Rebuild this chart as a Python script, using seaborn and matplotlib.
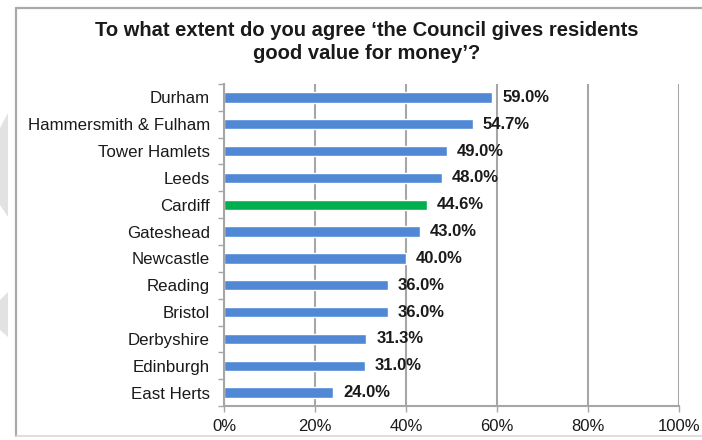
import matplotlib
matplotlib.use("Agg")
import matplotlib.pyplot as plt
from matplotlib.lines import Line2D
from matplotlib.patches import Polygon
from matplotlib.ticker import FixedLocator
import seaborn as sns
import pandas as pd

# Survey results: share of residents agreeing the council gives good value for money
councils = ["Durham", "Hammersmith & Fulham", "Tower Hamlets", "Leeds", "Cardiff",
            "Gateshead", "Newcastle", "Reading", "Bristol", "Derbyshire",
            "Edinburgh", "East Herts"]
agree_pct = [59.0, 54.7, 49.0, 48.0, 44.6, 43.0, 40.0, 36.0, 36.0, 31.3, 31.0, 24.0]
x_ticks = [0, 20, 40, 60, 80, 100]
x_tick_labels = ["0%", "20%", "40%", "60%", "80%", "100%"]
highlight = "Cardiff"

title = "To what extent do you agree \u2018the Council gives residents\ngood value for money\u2019?"

BLUE = "#5088D6"
GREEN = "#00B050"
GRID = "#A6A6A6"
TEXT = "#1A1A1A"

sns.set_theme(style="white")
plt.rcParams["font.family"] = ["Liberation Sans", "DejaVu Sans"]

W, H = 702, 440
fig = plt.figure(figsize=(W / 100, H / 100), dpi=100)
fig.patch.set_facecolor("white")

def fx(px):
    return px / W

def fy(py):
    return 1 - py / H

# page decoration at the left edge and the chart frame
for pts in ([(0, 128), (8, 113), (8, 217), (0, 205)],
            [(0, 300), (8, 292), (8, 337), (0, 330)]):
    fig.patches.append(Polygon([(fx(x), fy(y)) for x, y in pts], closed=True,
                               transform=fig.transFigure, facecolor="#E2E2E2",
                               edgecolor="none"))
frame_kw = dict(transform=fig.transFigure, color="#A9A9A9", lw=1.6)
fig.add_artist(Line2D([fx(16), fx(16)], [fy(8), fy(436)], **frame_kw))
fig.add_artist(Line2D([fx(16), 1.0], [fy(8), fy(8)], **frame_kw))
fig.add_artist(Line2D([fx(16), 1.0], [fy(436), fy(436)], color="#D8D8D8", lw=1.2,
                      transform=fig.transFigure))

ax = fig.add_axes([fx(224), fy(406), fx(679) - fx(224), (406 - 84) / H])

df = pd.DataFrame({"council": councils, "pct": agree_pct})
palette = {c: (GREEN if c == highlight else BLUE) for c in councils}
sns.barplot(data=df, y="council", x="pct", hue="council", palette=palette,
            orient="h", width=0.39, legend=False, saturation=1, ax=ax)

ax.set_xlim(0, 100)
ax.set_ylim(len(councils) - 0.5, -0.5)
ax.set_xlabel("")
ax.set_ylabel("")

ax.set_xticks(x_ticks)
ax.set_xticklabels(x_tick_labels)
ax.xaxis.grid(True, color=GRID, lw=1.5)
ax.yaxis.grid(False)
ax.set_axisbelow(True)

ax.yaxis.set_minor_locator(FixedLocator([i - 0.5 for i in range(len(councils) + 1)]))
ax.tick_params(axis="y", which="major", length=0, pad=10, labelsize=12.2, labelcolor=TEXT)
ax.tick_params(axis="y", which="minor", left=True, length=4, width=1, color=GRID)
ax.tick_params(axis="x", which="major", bottom=True, length=4, width=1, color=GRID,
               pad=5, labelsize=12, labelcolor=TEXT)

for side in ("top", "right"):
    ax.spines[side].set_visible(False)
for side in ("left", "bottom"):
    ax.spines[side].set_color(GRID)
    ax.spines[side].set_linewidth(1.5)

for container in ax.containers:
    ax.bar_label(container, labels=[f"{v:.1f}%" for v in container.datavalues],
                 padding=7, fontsize=12, fontweight="bold", color=TEXT)

fig.text(fx(367), fy(42), title, ha="center", va="center", fontsize=14.5,
         fontweight="bold", color=TEXT, linespacing=1.22)

fig.savefig("out.png", dpi=100, facecolor="white")
